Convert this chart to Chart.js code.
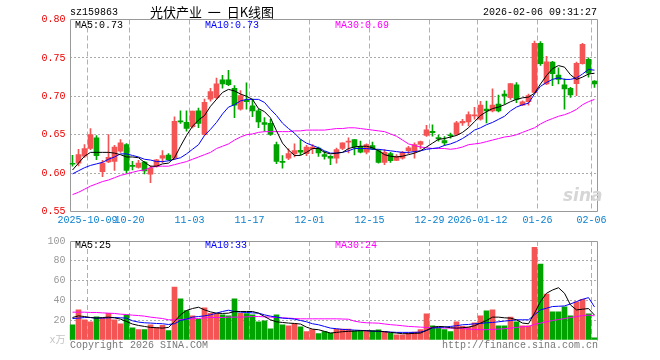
<!DOCTYPE html>
<html lang="zh-CN">
<head>
  <meta charset="UTF-8" />
  <title>光伏产业 日K线图</title>
  <script src="https://cdn.jsdelivr.net/npm/chart.js"></script>
  <style>
    body {
      margin: 0;
      background: #fff;
    }

    .board {
      position: relative;
      width: 660px;
      height: 360px;
      overflow: hidden;
      font-family: "Liberation Mono", "DejaVu Sans Mono", monospace;
      font-size: 10px;
    }

    .board canvas {
      position: absolute;
      left: 0;
    }

    .txt {
      position: absolute;
      white-space: pre;
      line-height: 12px;
    }

    .title {
      font-family: "Noto Sans CJK SC", sans-serif;
      font-size: 13px;
      line-height: 16px;
    }

    .sina {
      font: italic bold 17px "DejaVu Sans", sans-serif;
      line-height: 18px;
      color: #d6d6d6;
    }
  </style>
</head>
<body>
<div class="board">
  <canvas id="kChart" width="660" height="232" style="top:0"></canvas>
  <canvas id="volChart" width="660" height="120" style="top:231px"></canvas>

  <div class="txt" style="left:70px; top:7px;">sz159863</div>
  <div class="txt title" style="left:150px; top:4px;">光伏产业  一  日K线图</div>
  <div class="txt" style="right:63px; top:7px;">2026-02-06 09:31:27</div>

  <div class="txt" style="left:75px; top:20px;">MA5:0.73</div>
  <div class="txt" style="left:205px; top:20px; color:#0000ff;">MA10:0.73</div>
  <div class="txt" style="left:335px; top:20px; color:#ff00ff;">MA30:0.69</div>

  <div class="txt sina" style="left:563px; top:186px;">sina</div>

  <div class="txt" style="left:75px; top:240px;">MA5:25</div>
  <div class="txt" style="left:205px; top:240px; color:#0000ff;">MA10:33</div>
  <div class="txt" style="left:335px; top:240px; color:#ff00ff;">MA30:24</div>

  <div class="txt" style="left:70px; top:340px; color:#777;">Copyright 2026 SINA.COM</div>
  <div class="txt" style="right:62px; top:340px; color:#777;">http://finance.sina.com.cn</div>
</div>

<script>
  // trading days shown on the chart
  const dates = [
    '2025-09-26','2025-09-29','2025-09-30','2025-10-09','2025-10-10','2025-10-13','2025-10-14','2025-10-15','2025-10-16','2025-10-17',
    '2025-10-20','2025-10-21','2025-10-22','2025-10-23','2025-10-24','2025-10-27','2025-10-28','2025-10-29','2025-10-30','2025-10-31',
    '2025-11-03','2025-11-04','2025-11-05','2025-11-06','2025-11-07','2025-11-10','2025-11-11','2025-11-12','2025-11-13','2025-11-14',
    '2025-11-17','2025-11-18','2025-11-19','2025-11-20','2025-11-21','2025-11-24','2025-11-25','2025-11-26','2025-11-27','2025-11-28',
    '2025-12-01','2025-12-02','2025-12-03','2025-12-04','2025-12-05','2025-12-08','2025-12-09','2025-12-10','2025-12-11','2025-12-12',
    '2025-12-15','2025-12-16','2025-12-17','2025-12-18','2025-12-19','2025-12-22','2025-12-23','2025-12-24','2025-12-25','2025-12-26',
    '2025-12-29','2025-12-30','2025-12-31','2026-01-05','2026-01-06','2026-01-07','2026-01-08','2026-01-09','2026-01-12','2026-01-13',
    '2026-01-14','2026-01-15','2026-01-16','2026-01-19','2026-01-20','2026-01-21','2026-01-22','2026-01-23','2026-01-26','2026-01-27',
    '2026-01-28','2026-01-29','2026-01-30','2026-02-02','2026-02-03','2026-02-04','2026-02-05','2026-02-06'
  ];

  const xTickIndex = [3, 10, 20, 30, 40, 50, 60, 68, 78, 87];
  const xTickText = ['2025-10-09', '10-20', '11-03', '11-17', '12-01', '12-15', '12-29', '2026-01-12', '01-26', '02-06'];

  const opens = [
    0.6125,0.613,0.622,0.632,0.646,0.602,0.6144,0.6152,0.6284,0.6372,
    0.610,0.6073,0.6144,0.5985,0.6087,0.6196,0.6236,0.6196,0.6679,0.6662,
    0.6604,0.6811,0.6503,0.6964,0.6982,0.7215,0.7215,0.7105,0.6833,0.6947,
    0.6877,0.6811,0.6657,0.6648,0.6372,0.6152,0.6196,0.6254,0.6298,0.6254,
    0.6318,0.6327,0.624,0.6218,0.6196,0.632,0.6403,0.6438,0.635,0.6271,
    0.6359,0.6293,0.6139,0.6253,0.6166,0.6196,0.6293,0.6284,0.6372,0.649,
    0.6543,0.6464,0.6424,0.6499,0.6508,0.6653,0.6666,0.6745,0.6701,0.6833,
    0.6811,0.6899,0.703,0.6982,0.7149,0.6885,0.6929,0.7052,0.7689,0.716,
    0.7447,0.7275,0.7149,0.7105,0.7166,0.7425,0.748,0.7197
  ];
  const highs = [
    0.623,0.631,0.637,0.658,0.649,0.6166,0.650,0.636,0.6438,0.6385,
    0.6152,0.6166,0.6152,0.6095,0.618,0.6294,0.6254,0.6732,0.6811,0.6811,
    0.6806,0.6846,0.6964,0.7105,0.7237,0.7272,0.7338,0.714,0.7074,0.7175,
    0.6964,0.6833,0.6723,0.6701,0.6403,0.6227,0.6315,0.638,0.6438,0.636,
    0.6372,0.634,0.6284,0.6227,0.6327,0.6394,0.646,0.6438,0.6416,0.6381,
    0.6403,0.6306,0.6306,0.6271,0.624,0.6284,0.635,0.6394,0.6416,0.6622,
    0.663,0.6495,0.6477,0.6521,0.6675,0.6701,0.6798,0.6855,0.6934,0.6938,
    0.7096,0.7017,0.7074,0.7166,0.718,0.6942,0.703,0.772,0.7711,0.752,
    0.7456,0.737,0.7228,0.7118,0.7447,0.7689,0.750,0.7206
  ];
  const lows = [
    0.609,0.6095,0.6205,0.6306,0.6174,0.5955,0.6135,0.6034,0.627,0.600,
    0.6043,0.6065,0.599,0.5876,0.6078,0.6135,0.6166,0.6174,0.6648,0.6547,
    0.6587,0.6591,0.649,0.6938,0.6964,0.7105,0.714,0.6723,0.6821,0.6833,
    0.6736,0.6591,0.6547,0.649,0.6122,0.6065,0.6174,0.621,0.6241,0.6227,
    0.6254,0.6218,0.6183,0.6109,0.613,0.6306,0.6262,0.6236,0.6262,0.6249,
    0.6306,0.613,0.6109,0.6139,0.6161,0.6183,0.6254,0.6196,0.6315,0.6477,
    0.6481,0.6416,0.6359,0.6455,0.649,0.6622,0.6613,0.6701,0.6688,0.6653,
    0.6798,0.6798,0.6899,0.696,0.6916,0.6877,0.6885,0.7044,0.7403,0.715,
    0.714,0.716,0.6833,0.6987,0.7008,0.7417,0.725,0.7114
  ];
  const closes = [
    0.6115,0.624,0.632,0.650,0.6227,0.613,0.6205,0.634,0.6394,0.6034,
    0.6087,0.613,0.603,0.6065,0.6174,0.6227,0.6174,0.6675,0.6666,0.6582,
    0.6806,0.6648,0.692,0.7061,0.7162,0.7162,0.7153,0.6885,0.7008,0.6929,
    0.6811,0.6666,0.6635,0.6503,0.6152,0.6139,0.6254,0.6294,0.6272,0.634,
    0.634,0.6262,0.6218,0.6196,0.6306,0.6394,0.6416,0.6341,0.6271,0.6372,
    0.6315,0.6139,0.6271,0.6161,0.6218,0.6271,0.6328,0.6372,0.6411,0.6565,
    0.6525,0.6446,0.6394,0.6486,0.6653,0.6675,0.6762,0.6754,0.6885,0.6811,
    0.6885,0.6811,0.7004,0.7166,0.696,0.6929,0.7008,0.7689,0.7425,0.745,
    0.7294,0.722,0.7096,0.7017,0.743,0.7676,0.730,0.7162
  ];

  // price moving averages
  const ma5 = [
    0.604,0.613,0.622,0.627,0.627,0.627,0.627,0.626,0.624,0.621,
    0.621,0.620,0.614,0.609,0.609,0.612,0.613,0.620,0.635,0.649,
    0.661,0.669,0.675,0.687,0.696,0.705,0.709,0.707,0.703,0.700,
    0.696,0.684,0.680,0.672,0.655,0.639,0.630,0.623,0.623,0.627,
    0.632,0.632,0.627,0.625,0.626,0.627,0.632,0.634,0.635,0.635,
    0.633,0.629,0.624,0.622,0.621,0.622,0.624,0.626,0.629,0.634,
    0.639,0.644,0.645,0.647,0.649,0.653,0.659,0.667,0.675,0.680,
    0.684,0.686,0.689,0.693,0.696,0.698,0.699,0.704,0.716,0.727,
    0.736,0.740,0.738,0.728,0.722,0.725,0.729,0.730
  ];
  const ma10 = [
    0.599,0.603,0.607,0.610,0.612,0.614,0.618,0.621,0.625,0.625,
    0.623,0.621,0.618,0.617,0.615,0.615,0.616,0.618,0.620,0.625,
    0.631,0.637,0.649,0.657,0.666,0.677,0.686,0.689,0.694,0.696,
    0.696,0.696,0.692,0.683,0.675,0.665,0.658,0.652,0.644,0.639,
    0.636,0.633,0.629,0.626,0.626,0.627,0.629,0.632,0.632,0.632,
    0.631,0.631,0.630,0.629,0.628,0.627,0.627,0.628,0.629,0.631,
    0.632,0.633,0.636,0.638,0.641,0.645,0.650,0.656,0.659,0.663,
    0.666,0.670,0.674,0.681,0.686,0.689,0.691,0.703,0.713,0.718,
    0.722,0.724,0.722,0.722,0.724,0.729,0.735,0.734
  ];
  const ma30 = [
    0.572,0.575,0.579,0.583,0.586,0.589,0.591,0.594,0.597,0.599,
    0.601,0.603,0.604,0.607,0.609,0.609,0.609,0.611,0.613,0.615,
    0.618,0.621,0.624,0.627,0.632,0.635,0.638,0.643,0.647,0.650,
    0.651,0.653,0.654,0.654,0.654,0.654,0.654,0.655,0.655,0.656,
    0.656,0.656,0.656,0.657,0.658,0.658,0.659,0.659,0.658,0.657,
    0.656,0.655,0.654,0.651,0.648,0.643,0.638,0.636,0.634,0.633,
    0.632,0.632,0.632,0.631,0.632,0.634,0.637,0.638,0.639,0.641,
    0.643,0.645,0.647,0.648,0.650,0.653,0.656,0.659,0.664,0.668,
    0.671,0.674,0.676,0.679,0.683,0.689,0.693,0.696
  ];

  // volume in 万 (10k)
  const volumes = [
    15.4,30.4,20.4,18.4,23.4,22.0,27.0,20.4,16.4,25.4,
    12.4,10.4,10.4,15.4,12.7,14.7,9.4,53.5,41.5,29.8,
    24.4,21.0,32.4,27.0,26.4,25.4,24.4,41.5,27.0,26.7,
    25.4,18.4,19.4,11.4,25.4,15.4,14.4,16.7,13.4,8.4,
    10.4,6.4,8.6,7.0,11.0,11.0,11.0,9.3,9.5,9.5,
    9.5,10.3,8.6,6.8,5.3,5.3,7.0,8.0,10.4,26.4,
    14.4,12.0,10.4,8.4,18.4,13.7,13.0,17.4,24.4,29.4,
    30.4,14.4,14.4,23.1,18.4,14.4,14.4,93.6,76.6,46.5,
    28.4,28.4,33.4,24.4,38.5,41.1,26.4,2.3
  ];
  const vma5 = [
    22.7,24.4,23.7,22.7,22.1,22.7,23.1,22.4,21.1,18.7,
    16.1,14.7,13.7,12.7,12.4,12.0,12.7,18.7,25.4,29.8,
    31.8,33.1,30.4,28.4,27.1,26.8,27.1,28.8,28.8,28.8,
    28.8,27.1,23.7,20.4,18.4,17.7,17.1,16.7,16.1,13.0,
    11.0,10.4,8.7,7.0,7.7,8.4,8.7,9.0,9.4,9.4,
    9.0,9.0,8.4,7.7,7.0,6.4,6.4,6.7,7.0,9.7,
    13.0,13.7,13.4,12.4,12.0,12.4,13.0,14.4,17.1,19.7,
    23.1,23.1,22.4,22.1,20.4,17.1,16.4,27.1,38.8,47.2,
    50.5,52.8,47.2,35.4,30.4,31.1,31.8,25.1
  ];
  const vma10 = [
    21.7,22.1,22.7,22.7,22.1,22.1,22.4,22.7,22.4,22.1,
    19.4,18.1,17.4,17.1,16.7,16.4,15.7,16.4,19.7,21.1,
    23.1,23.7,24.4,25.4,27.1,28.8,30.1,28.8,28.1,27.8,
    27.4,27.1,25.4,24.1,23.1,22.1,21.7,21.1,19.7,18.4,
    16.4,15.4,13.7,12.0,11.4,10.7,10.4,10.0,9.7,9.4,
    9.0,8.7,8.4,8.0,7.7,7.7,7.7,7.7,8.0,9.7,
    12.0,12.7,13.0,13.7,14.4,15.4,15.7,16.4,16.7,17.4,
    17.7,18.4,19.1,19.7,20.4,20.4,20.4,25.4,30.4,32.1,
    33.8,34.1,34.4,36.4,38.8,41.1,42.8,33.4
  ];
  const vma30 = [
    28.1,28.1,28.1,27.8,27.8,27.4,27.1,26.8,26.1,25.7,
    25.1,24.7,24.1,23.1,22.4,21.7,20.4,20.4,20.7,21.1,
    21.4,21.7,22.4,22.7,22.7,22.7,23.1,23.1,23.1,23.4,
    23.7,23.7,23.4,23.1,22.7,22.4,22.1,21.7,21.4,21.4,
    21.4,21.4,21.4,21.4,21.4,21.2,21.0,19.0,18.0,17.4,
    17.2,17.0,16.2,15.5,15.0,14.4,13.7,13.4,13.0,12.7,
    12.4,12.4,12.0,12.0,12.0,11.7,11.0,10.7,10.4,10.4,
    10.7,11.0,11.4,12.0,12.7,13.4,13.7,15.7,17.1,18.4,
    19.7,20.7,21.7,22.7,23.7,24.7,25.1,24.4
  ];

  const RED = '#f45454';
  const GREEN = '#00a300';

  Chart.defaults.font.family = '"Liberation Mono", "Noto Sans CJK SC", monospace';
  Chart.defaults.font.size = 10;

  const candleColor = closes.map((c, i) => c >= opens[i] ? RED : GREEN);

  const tickAt = {};
  xTickIndex.forEach((idx, k) => { tickAt[idx] = xTickText[k]; });
  const dateGrid = ctx => (ctx.index in tickAt) ? '#b0b0b0' : 'rgba(0,0,0,0)';

  // grey box around the plot area
  function frame(closed) {
    return {
      id: 'frame',
      beforeDatasetsDraw(chart) {
        const { ctx, chartArea: a } = chart;
        const l = Math.ceil(a.left) + 0.5, r = Math.floor(a.right) + 0.5;
        const t = Math.floor(a.top) + 0.5, b = Math.floor(a.bottom) + 0.5;
        ctx.save();
        ctx.strokeStyle = '#999';
        ctx.lineWidth = 1;
        ctx.beginPath();
        ctx.moveTo(l, b);
        ctx.lineTo(l, t);
        ctx.lineTo(r, t);
        ctx.lineTo(r, b);
        if (closed) ctx.lineTo(l, b);
        ctx.stroke();
        ctx.restore();
      }
    };
  }

  const maLine = (data, color) => ({
    type: 'line', data, borderColor: color, borderWidth: 1,
    pointRadius: 0, tension: 0, order: 0
  });

  new Chart(document.getElementById('kChart'), {
    type: 'bar',
    data: {
      labels: dates,
      datasets: [
        maLine(ma5, '#000000'),
        maLine(ma10, '#0000ff'),
        maLine(ma30, '#ff00ff'),
        {
          data: lows.map((l, i) => [l, highs[i]]),
          backgroundColor: candleColor,
          barThickness: 1, grouped: false, order: 2
        },
        {
          data: opens.map((o, i) => [o, closes[i]]),
          backgroundColor: candleColor,
          barThickness: 5, minBarLength: 1, grouped: false, order: 1
        }
      ]
    },
    options: {
      responsive: false,
      animation: false,
      events: [],
      layout: { padding: { top: 19.5, right: 62.5, left: 0, bottom: 0 } },
      plugins: { legend: { display: false }, tooltip: { enabled: false } },
      scales: {
        x: {
          offset: true,
          grid: { offset: true, color: dateGrid, drawTicks: false },
          border: { display: false, dash: [5, 3] },
          ticks: {
            autoSkip: false, maxRotation: 0, minRotation: 0,
            labelOffset: -3, padding: 3, color: '#0a80d0',
            callback: (v, i) => tickAt[i] || ''
          },
          afterFit: s => { s.height = 20.5; }
        },
        y: {
          min: 0.55,
          max: 0.80,
          grid: {
            color: ctx => (ctx.tick && ctx.tick.value > 0.551 && ctx.tick.value < 0.799) ? '#aaaaaa' : 'rgba(0,0,0,0)',
            drawTicks: false
          },
          border: { display: false, dash: [2, 2] },
          ticks: { stepSize: 0.05, padding: 4, color: '#ee0000', callback: v => v.toFixed(2) },
          afterFit: s => { s.width = 69.5; }
        }
      }
    },
    plugins: [frame(true)]
  });

  new Chart(document.getElementById('volChart'), {
    type: 'bar',
    data: {
      labels: dates,
      datasets: [
        maLine(vma5, '#000000'),
        maLine(vma10, '#0000ff'),
        maLine(vma30, '#ff00ff'),
        { data: volumes, backgroundColor: candleColor, barThickness: 5, order: 1 }
      ]
    },
    options: {
      responsive: false,
      animation: false,
      events: [],
      layout: { padding: { top: 9.5, right: 62.5, left: 0, bottom: 11 } },
      plugins: { legend: { display: false }, tooltip: { enabled: false } },
      scales: {
        x: {
          offset: true,
          grid: { offset: true, color: dateGrid, drawTicks: false },
          border: { display: false, dash: [5, 3] },
          ticks: { display: false },
          afterFit: s => { s.height = 0; }
        },
        y: {
          min: 0,
          max: 100,
          grid: {
            color: ctx => (ctx.tick && ctx.tick.value > 0 && ctx.tick.value < 100) ? '#aaaaaa' : 'rgba(0,0,0,0)',
            drawTicks: false
          },
          border: { display: false, dash: [2, 2] },
          ticks: {
            stepSize: 20, padding: 4,
            color: ctx => ctx.tick && ctx.tick.value === 0 ? '#c4c4c4' : '#999999',
            callback: v => v === 0 ? 'x万' : v
          },
          afterFit: s => { s.width = 69.5; }
        }
      }
    },
    plugins: [frame(false)]
  });
</script>
</body>
</html>
